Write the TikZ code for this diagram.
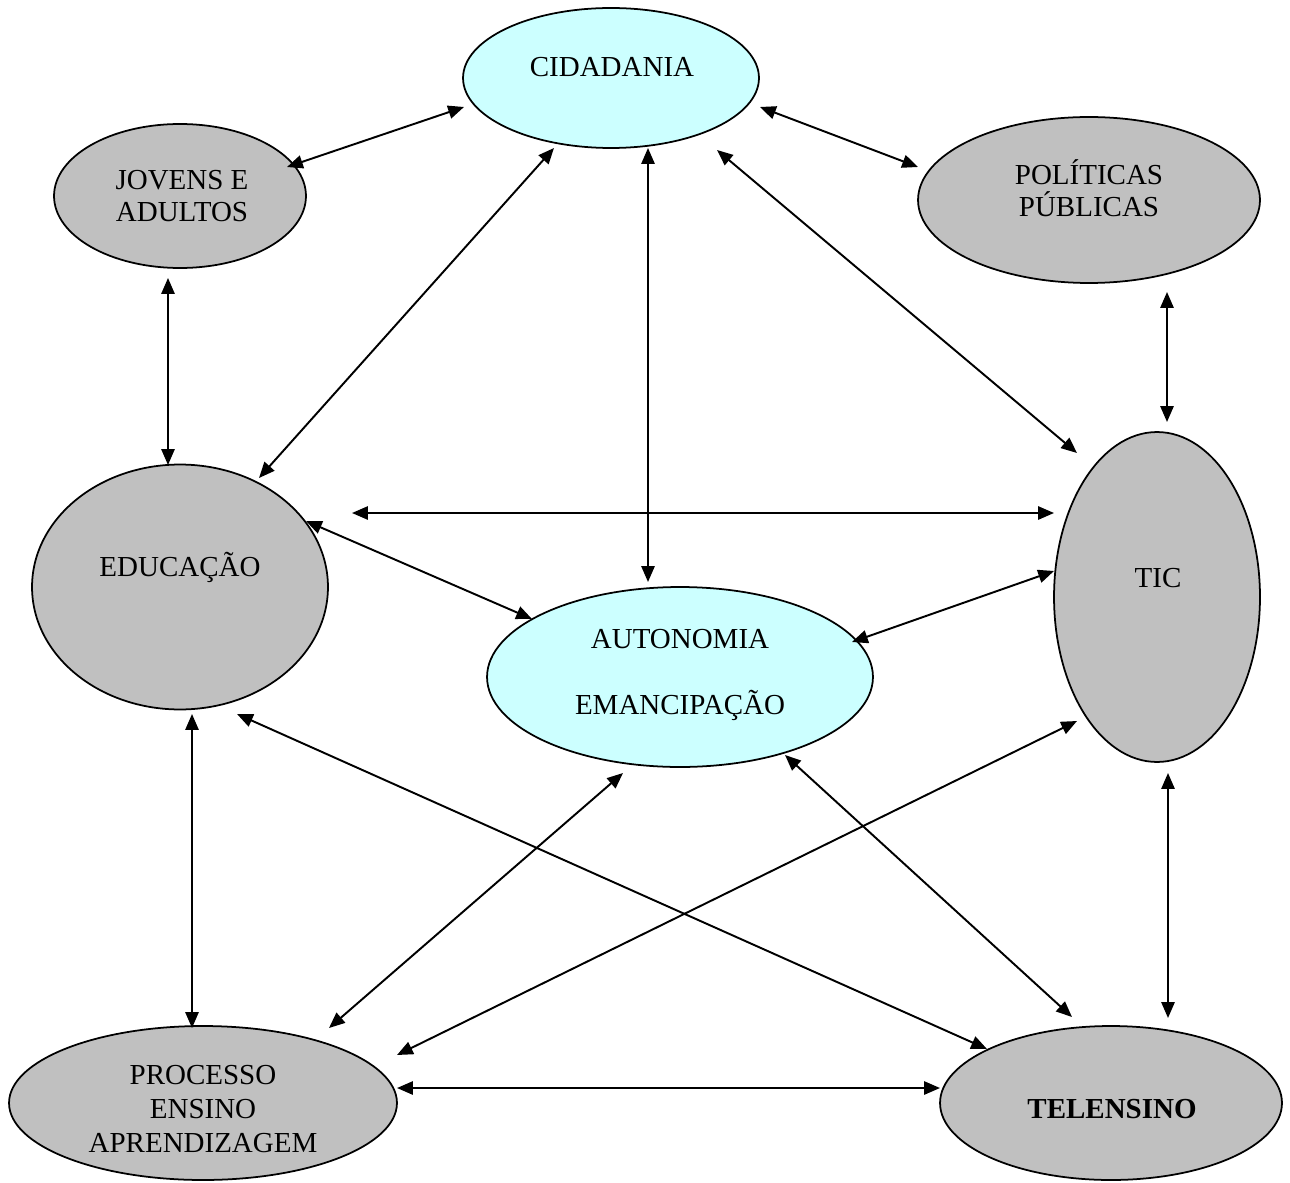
\documentclass[tikz,border=0pt]{standalone}
\usepackage{fontspec}
\setmainfont{Liberation Serif}
\usetikzlibrary{arrows.meta,shapes.geometric}
\begin{document}
\begin{tikzpicture}[x=0.02cm,y=-0.02cm,
  oval/.style={draw,line width=1pt,ellipse,inner sep=0pt},
  blueoval/.style={oval,fill=lightcyan},
  greyoval/.style={oval,fill=greyfill},
  lbl/.style={align=center,inner sep=0pt,font=\fontsize{16.5}{19.5}\selectfont},
  link/.style={line width=1.1pt,{Triangle[length=9pt,width=7.5pt]}-{Triangle[length=9pt,width=7.5pt]}}]
\definecolor{lightcyan}{HTML}{CCFFFF}
\definecolor{greyfill}{HTML}{C0C0C0}
\useasboundingbox (0,0) rectangle (1290,1182);
% ellipses
\node[blueoval,minimum width=5.92cm,minimum height=2.8cm] (cid) at (611,78) {};
\node[greyoval,minimum width=5.04cm,minimum height=2.88cm] (jov) at (180,196) {};
\node[greyoval,minimum width=6.84cm,minimum height=3.32cm] (pol) at (1089,200) {};
\node[greyoval,minimum width=5.92cm,minimum height=4.9cm] (edu) at (180,587) {};
\node[greyoval,minimum width=4.12cm,minimum height=6.6cm] (tic) at (1157,597) {};
\node[blueoval,minimum width=7.72cm,minimum height=3.6cm] (aut) at (680,677) {};
\node[greyoval,minimum width=7.76cm,minimum height=3.08cm] (pro) at (203,1103) {};
\node[greyoval,minimum width=6.84cm,minimum height=3.08cm] (tel) at (1111,1103) {};
% labels
\node[lbl] (cidt) at (612,67) {CIDADANIA};
\node[lbl,font=\fontsize{16.5}{18.5}\selectfont] (jovt) at (182,196) {JOVENS E\\ADULTOS};
\node[lbl,font=\fontsize{16.5}{18.5}\selectfont] (polt) at (1089,188) {POLÍTICAS\\PÚBLICAS};
\node[lbl] (edut) at (180,567) {EDUCAÇÃO};
\node[lbl] (tict) at (1158,578) {TIC};
\node[lbl,font=\fontsize{16.5}{37.5}\selectfont] (autt) at (680,675) {AUTONOMIA\\EMANCIPAÇÃO};
\node[lbl] (prot) at (203,1109) {PROCESSO\\ENSINO\\APRENDIZAGEM};
\node[lbl,font=\fontsize{16.5}{19.5}\selectfont\bfseries] (telt) at (1112,1109) {TELENSINO};
% connector ends
\coordinate (a1) at (287,167);  \coordinate (b1) at (464,107);
\coordinate (a2) at (760,107);  \coordinate (b2) at (918,167);
\coordinate (a3) at (554,148);  \coordinate (b3) at (259,478);
\coordinate (a4) at (648,148);  \coordinate (b4) at (648,582);
\coordinate (a5) at (717,150);  \coordinate (b5) at (1077,453);
\coordinate (a6) at (168,278);  \coordinate (b6) at (168,465);
\coordinate (a7) at (1167,292); \coordinate (b7) at (1167,422);
\coordinate (a8) at (352,513);  \coordinate (b8) at (1054,513);
\coordinate (a9) at (306,521);  \coordinate (b9) at (532,619);
\coordinate (a10) at (1054,571); \coordinate (b10) at (852,642);
\coordinate (a11) at (237,714); \coordinate (b11) at (987,1049);
\coordinate (a12) at (192,714); \coordinate (b12) at (192,1028);
\coordinate (a13) at (623,773); \coordinate (b13) at (329,1028);
\coordinate (a14) at (1077,721); \coordinate (b14) at (397,1055);
\coordinate (a15) at (785,755); \coordinate (b15) at (1072,1017);
\coordinate (a16) at (1168,773); \coordinate (b16) at (1168,1018);
\coordinate (a17) at (397,1088); \coordinate (b17) at (940,1088);
\foreach \i in {1,...,17} {\draw[link] (a\i) -- (b\i);}
\end{tikzpicture}
\end{document}
